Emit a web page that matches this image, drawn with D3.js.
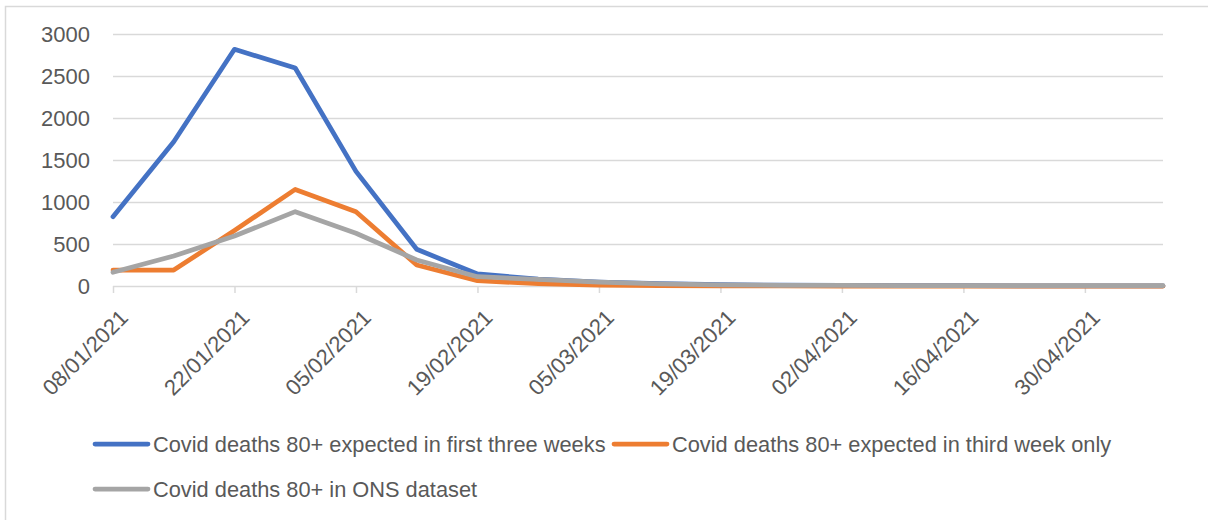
<html>
<head>
<script src="https://d3js.org/d3.v7.min.js"></script>
<style>
  body { margin: 0; background: #fff; }
  text { font-family: "Liberation Sans", Arial, sans-serif; fill: #595959; }
</style>
</head>
<body>
<script>
// weekly dates (last point is the partial week the line ends on)
var dates = ["2021-01-08","2021-01-15","2021-01-22","2021-01-29","2021-02-05","2021-02-12",
  "2021-02-19","2021-02-26","2021-03-05","2021-03-12","2021-03-19","2021-03-26","2021-04-02",
  "2021-04-09","2021-04-16","2021-04-23","2021-04-30","2021-05-07","2021-05-09"];
var firstThree = [825,1718,2818,2595,1365,437,143,82,47,27,15,9,6,4,3,2,2,1,1];
var thirdOnly  = [190,190,660,1150,885,250,63,28,10,4,2,1,0,0,0,0,0,0,0];
var onsData    = [163,357,595,885,628,310,111,78,45,26,13,8,6,5,4,3,3,3,3];
var yTicks = [0,500,1000,1500,2000,2500,3000];
var seriesNames = ["Covid deaths 80+ expected in first three weeks",
  "Covid deaths 80+ expected in third week only",
  "Covid deaths 80+ in ONS dataset"];
var colors = ["#4472C4","#ED7D31","#A5A5A5"];

var w = 1208, h = 520;
var parse = d3.timeParse("%Y-%m-%d");
var xDates = dates.map(parse);

var svg = d3.select("body").append("svg").attr("width", w).attr("height", h);

// chart frame
svg.append("rect").attr("x", 5.5).attr("y", 6.5).attr("width", 1220).attr("height", 530)
  .attr("fill", "none").attr("stroke", "#d9d9d9").attr("stroke-width", 1.5);

var x = d3.scaleTime().domain([xDates[0], xDates[xDates.length-1]]).range([113, 1163]);
var y = d3.scaleLinear().domain([0, 3000]).range([286, 34]);

// gridlines + y labels
var yAxis = d3.axisLeft(y).tickValues(yTicks).tickSize(-(1163-113)).tickFormat(d3.format("d"));
var gy = svg.append("g").attr("transform", "translate(113,0)").call(yAxis);
gy.select(".domain").remove();
gy.selectAll("line").attr("stroke", "#d9d9d9").attr("stroke-width", 1.5);
gy.selectAll("text").attr("x", -23).attr("font-size", 22).attr("fill", "#595959");

// x axis: ticks every two weeks from the first date
var xTicks = d3.timeDay.every(1).range(xDates[0], d3.timeDay.offset(xDates[xDates.length-1], 1))
  .filter(function(d, i){ return i % 14 === 0; });
var xAxis = d3.axisBottom(x).tickValues(xTicks).tickSize(7).tickFormat(d3.timeFormat("%d/%m/%Y"));
var gx = svg.append("g").attr("transform", "translate(0,286)").call(xAxis);
gx.select(".domain").remove();
gx.selectAll("line").attr("stroke", "#d9d9d9").attr("stroke-width", 1.5);
gx.selectAll("text").attr("font-size", 22).attr("fill", "#595959")
  .attr("text-anchor", "end").attr("dy", 0).attr("y", 0)
  .attr("transform", "translate(16,33) rotate(-45)");

// lines
var all = [firstThree, thirdOnly, onsData];
var line = d3.line().x(function(d, i){ return x(xDates[i]); }).y(function(d){ return y(d); });
all.forEach(function(s, k){
  svg.append("path").attr("d", line(s)).attr("fill", "none")
    .attr("stroke", colors[k]).attr("stroke-width", 4.75)
    .attr("stroke-linejoin", "round").attr("stroke-linecap", "round");
});

// legend
var legPos = [[93, 444], [612, 444], [93, 489]];
seriesNames.forEach(function(name, k){
  var g = svg.append("g").attr("transform", "translate(" + legPos[k][0] + "," + legPos[k][1] + ")");
  g.append("line").attr("x1", 2).attr("x2", 55).attr("y1", 0).attr("y2", 0)
    .attr("stroke", colors[k]).attr("stroke-width", 4.75).attr("stroke-linecap", "round");
  g.append("text").attr("x", 60).attr("y", 8).attr("font-size", 21.8).text(name);
});
</script>
</body>
</html>
